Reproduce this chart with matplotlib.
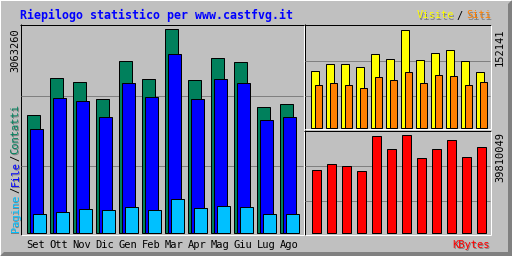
import matplotlib
matplotlib.use("Agg")
import matplotlib.pyplot as plt
from matplotlib.patches import Polygon

# ---------------- data ----------------
months = ["Set", "Ott", "Nov", "Dic", "Gen", "Feb", "Mar", "Apr", "Mag", "Giu", "Lug", "Ago"]
hits = [1765600, 2338900, 2278500, 2022000, 2580400, 2323800, 3063260, 2293700, 2640700, 2578000, 1901300, 1946600]
files = [1554300, 2022100, 1976800, 1735400, 2248500, 2037200, 2686100, 2007000, 2308800, 2248500, 1690100, 1735400]
pages = [286700, 301800, 347100, 332000, 377300, 332000, 498000, 362200, 407400, 392300, 286700, 286700]
visits = [87160, 97990, 97990, 93350, 113460, 105730, 152141, 104180, 115010, 119650, 102630, 85610]
sites = [65500, 68590, 65500, 60850, 77870, 73230, 85610, 68590, 80960, 79420, 65500, 70140]
kbytes = [25592000, 28029000, 26811000, 24780000, 38998000, 33717000, 39810049, 30061000, 33717000, 37373000, 30467000, 34935000]

title = "Riepilogo statistico per www.castfvg.it"

GREY = "#C0C0C0"
DKGREY = "#808080"
C_HITS = "#00805C"
C_FILES = "#0000FF"
C_PAGES = "#00C0FF"
C_VISITS = "#FFFF00"
C_SITES = "#FF8000"
C_KB = "#FF0000"

W, H = 512, 256
DPI = 100
LW = 72.0 / DPI  # one pixel

fig = plt.figure(figsize=(W / DPI, H / DPI), dpi=DPI, facecolor=GREY)
bg = fig.add_axes([0, 0, 1, 1], zorder=0)
bg.set_xlim(0, W)
bg.set_ylim(H, 0)
bg.axis("off")
bg.set_facecolor(GREY)

MONO = "DejaVu Sans Mono"


def hline(row, c0, c1, color):
    bg.plot([c0, c1 + 1], [row + 0.5, row + 0.5], color=color, lw=LW, solid_capstyle="butt")


def vline(col, r0, r1, color):
    bg.plot([col + 0.5, col + 0.5], [r0, r1 + 1], color=color, lw=LW, solid_capstyle="butt")


# outer bevel
N = 4
bg.add_patch(Polygon([[W, 0], [W, H], [0, H], [N, H - N], [W - N, H - N], [W - N, N]],
                     closed=True, facecolor=DKGREY, edgecolor="none"))
bg.add_patch(Polygon([[0, 0], [W, 0], [W - 1, 1], [1, 1], [1, H - 1], [0, H]],
                     closed=True, facecolor="white", edgecolor="none"))

# panel frames
# left
hline(24, 20, 303, "black"); vline(20, 24, 234, "black")
hline(234, 21, 303, "white"); vline(303, 25, 234, "white")
# right top
hline(24, 304, 490, "black"); vline(304, 24, 128, "black")
hline(128, 305, 490, "white"); vline(490, 25, 128, "white")
# right bottom
hline(130, 304, 490, "black"); vline(304, 130, 234, "black")
hline(234, 305, 490, "white"); vline(490, 131, 234, "white")

# grid lines
for r in (95, 165):
    hline(r, 21, 302, DKGREY)
for r in (60, 95):
    hline(r, 305, 489, DKGREY)
for r in (165, 200):
    hline(r, 305, 489, DKGREY)


def panel(px0, px1, py0, py1, xref, step, base, hmax, vmax):
    ax = fig.add_axes([px0 / W, 1 - py1 / H, (px1 - px0) / W, (py1 - py0) / H], zorder=2)
    ax.set_xlim((px0 - xref) / step, (px1 - xref) / step)
    ax.set_ylim((base - py1) * vmax / hmax, (base - py0) * vmax / hmax)
    ax.axis("off")
    ax.patch.set_alpha(0)
    return ax


idx = list(range(len(months)))

# left panel: hits / files / pages
axL = panel(20, 304, 24, 234, 36, 23, 232.5, 203, max(hits))
for vals, off, col in ((hits, -3, C_HITS), (files, 0, C_FILES), (pages, 3, C_PAGES)):
    axL.bar([i + off / 23 for i in idx], vals, width=13 / 23, color=col,
            edgecolor="black", linewidth=LW)

# right top: visits / sites
axT = panel(304, 491, 24, 129, 316, 15, 127.5, 98, max(visits))
axT.bar([i - 1.5 / 15 for i in idx], visits, width=8 / 15, color=C_VISITS, edgecolor="black", linewidth=LW)
axT.bar([i + 2 / 15 for i in idx], sites, width=7 / 15, color=C_SITES, edgecolor="black", linewidth=LW)

# right bottom: kbytes
axB = panel(304, 491, 129, 235, 316, 15, 232.5, 98, max(kbytes))
axB.bar(idx, kbytes, width=9 / 15, color=C_KB, edgecolor="black", linewidth=LW)

# ---------------- text ----------------
FS = 7.5


def stext(x, y, s, color, shadow=True, **kw):
    if shadow:
        bg.text(x + 1, y + 1, s, color=DKGREY, family=MONO, fontsize=FS, **kw)
    bg.text(x, y, s, color=color, family=MONO, fontsize=FS, **kw)


bg.text(20, 15.5, title, color=C_FILES, family=MONO, fontsize=8.4, fontweight="bold",
        ha="left", va="center")

# right legend
stext(417, 15.5, "Visite", C_VISITS, ha="left", va="center")
stext(456, 15.5, "/", "black", shadow=False, ha="left", va="center")
stext(466, 15.5, "Siti", C_SITES, ha="left", va="center")

# month labels
for i, m in enumerate(months):
    bg.text(36 + 23 * i, 245, m, color="black", family=MONO, fontsize=FS, ha="center", va="center")
stext(490, 245, "KBytes", C_KB, ha="right", va="center")

# max labels (rotated)
bg.text(15.5, 28, str(max(hits)), color="black", family=MONO, fontsize=FS, rotation=90, ha="center", va="top")
bg.text(500, 28, str(max(visits)), color="black", family=MONO, fontsize=FS, rotation=90, ha="center", va="top")
bg.text(500, 132, str(max(kbytes)), color="black", family=MONO, fontsize=FS, rotation=90, ha="center", va="top")

# left legend (rotated, bottom-up)
stext(15.5, 232, "Pagine", C_PAGES, rotation=90, ha="center", va="bottom")
stext(15.5, 193, "/", "black", shadow=False, rotation=90, ha="center", va="bottom")
stext(15.5, 186, "File", C_FILES, rotation=90, ha="center", va="bottom")
stext(15.5, 161, "/", "black", shadow=False, rotation=90, ha="center", va="bottom")
stext(15.5, 154, "Contatti", C_HITS, rotation=90, ha="center", va="bottom")

fig.savefig("out.png", dpi=DPI, facecolor=GREY)
